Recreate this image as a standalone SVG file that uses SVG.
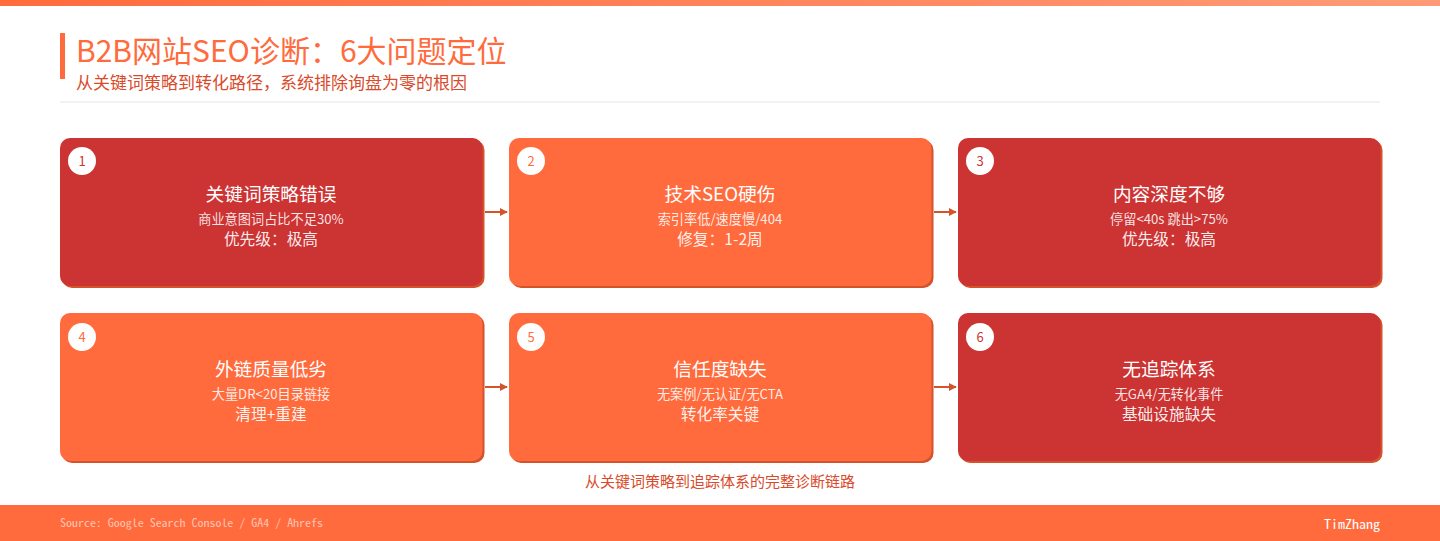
<svg xmlns="http://www.w3.org/2000/svg" width="1440" height="541" viewBox="0 0 1440 541">
<defs>
<linearGradient id="topbar" x1="0" y1="0" x2="1" y2="0">
<stop offset="0" stop-color="#ff6b3d"/>
<stop offset="1" stop-color="#ff9b78"/>
</linearGradient>
<marker id="arrow" viewBox="0 0 10 10" refX="9" refY="5" markerWidth="8" markerHeight="8" markerUnits="userSpaceOnUse" orient="auto">
<path d="M0,0 L10,5 L0,10 Z" fill="#d4532b"/>
</marker>
<style>
text{font-family:"Noto Sans CJK SC","Noto Sans",sans-serif;}
.mono{font-family:"Noto Sans Mono CJK SC","Liberation Mono","DejaVu Sans Mono",monospace;}
.shadow{fill:#d4532b;}
.red{fill:#cc3333;}
.orange{fill:#ff6b3d;}
.num-circle{fill:#ffffff;}
.num{font-size:13px;text-anchor:middle;}
.ttl{font-size:18.7px;fill:#ffffff;text-anchor:middle;}
.sub{font-size:13.2px;fill:#ffffff;fill-opacity:0.88;text-anchor:middle;}
.pri{font-size:15.7px;fill:#ffffff;fill-opacity:0.92;text-anchor:middle;}
.conn{stroke:#d4532b;stroke-width:2;fill:none;marker-end:url(#arrow);}
</style>
</defs>
<rect x="0" y="0" width="1440" height="541" fill="#ffffff"/>
<rect x="0" y="0" width="1440" height="6" fill="url(#topbar)"/>
<g id="header">
<rect x="60" y="33" width="5" height="46" fill="#ff6b3d"/>
<text x="76" y="62" font-size="30" fill="#ff6b3d">B2B网站SEO诊断：6大问题定位</text>
<text x="76" y="89" font-size="17" fill="#d94a2b">从关键词策略到转化路径，系统排除询盘为零的根因</text>
<rect x="60" y="101.5" width="1320" height="1" fill="#e6e8ec"/>
</g>
<g id="connectors">
<line class="conn" x1="485" y1="212" x2="507" y2="212"/>
<line class="conn" x1="934" y1="212" x2="956" y2="212"/>
<line class="conn" x1="485" y1="387" x2="507" y2="387"/>
<line class="conn" x1="934" y1="387" x2="956" y2="387"/>
</g>
<g id="node1">
<rect class="shadow" x="62" y="140" width="422.5" height="148" rx="10"/>
<rect class="red" x="60" y="138" width="422.5" height="148" rx="10"/>
<circle class="num-circle" cx="82" cy="161" r="14"/>
<text class="num" x="82" y="166" fill="#cc3333">1</text>
<text class="ttl" x="271" y="201">关键词策略错误</text>
<text class="sub" x="271" y="224">商业意图词占比不足30%</text>
<text class="pri" x="271" y="245">优先级：极高</text>
</g>
<g id="node2">
<rect class="shadow" x="511" y="140" width="422.5" height="148" rx="10"/>
<rect class="orange" x="509" y="138" width="422.5" height="148" rx="10"/>
<circle class="num-circle" cx="531" cy="161" r="14"/>
<text class="num" x="531" y="166" fill="#ff6b3d">2</text>
<text class="ttl" x="720" y="201">技术SEO硬伤</text>
<text class="sub" x="720" y="224">索引率低/速度慢/404</text>
<text class="pri" x="720" y="245">修复：1-2周</text>
</g>
<g id="node3">
<rect class="shadow" x="960" y="140" width="422.5" height="148" rx="10"/>
<rect class="red" x="958" y="138" width="422.5" height="148" rx="10"/>
<circle class="num-circle" cx="980" cy="161" r="14"/>
<text class="num" x="980" y="166" fill="#cc3333">3</text>
<text class="ttl" x="1169" y="201">内容深度不够</text>
<text class="sub" x="1169" y="224">停留&lt;40s 跳出&gt;75%</text>
<text class="pri" x="1169" y="245">优先级：极高</text>
</g>
<g id="node4">
<rect class="shadow" x="62" y="315" width="422.5" height="148" rx="10"/>
<rect class="orange" x="60" y="313" width="422.5" height="148" rx="10"/>
<circle class="num-circle" cx="82" cy="337" r="14"/>
<text class="num" x="82" y="342" fill="#ff6b3d">4</text>
<text class="ttl" x="271" y="376">外链质量低劣</text>
<text class="sub" x="271" y="399">大量DR&lt;20目录链接</text>
<text class="pri" x="271" y="420">清理+重建</text>
</g>
<g id="node5">
<rect class="shadow" x="511" y="315" width="422.5" height="148" rx="10"/>
<rect class="orange" x="509" y="313" width="422.5" height="148" rx="10"/>
<circle class="num-circle" cx="531" cy="337" r="14"/>
<text class="num" x="531" y="342" fill="#ff6b3d">5</text>
<text class="ttl" x="720" y="376">信任度缺失</text>
<text class="sub" x="720" y="399">无案例/无认证/无CTA</text>
<text class="pri" x="720" y="420">转化率关键</text>
</g>
<g id="node6">
<rect class="shadow" x="960" y="315" width="422.5" height="148" rx="10"/>
<rect class="red" x="958" y="313" width="422.5" height="148" rx="10"/>
<circle class="num-circle" cx="980" cy="337" r="14"/>
<text class="num" x="980" y="342" fill="#cc3333">6</text>
<text class="ttl" x="1169" y="376">无追踪体系</text>
<text class="sub" x="1169" y="399">无GA4/无转化事件</text>
<text class="pri" x="1169" y="420">基础设施缺失</text>
</g>
<text x="720" y="487" font-size="15" fill="#d94a2b" text-anchor="middle">从关键词策略到追踪体系的完整诊断链路</text>
<g id="footer">
<rect x="0" y="505" width="1440" height="36" fill="#ff6b3d"/>
<text class="mono" x="60" y="527" font-size="11" fill="#ffffff" fill-opacity="0.6" textLength="263" lengthAdjust="spacingAndGlyphs">Source: Google Search Console / GA4 / Ahrefs</text>
<text class="mono" x="1324" y="529" font-size="13" fill="#ffffff" textLength="56" lengthAdjust="spacingAndGlyphs">TimZhang</text>
</g>
</svg>
